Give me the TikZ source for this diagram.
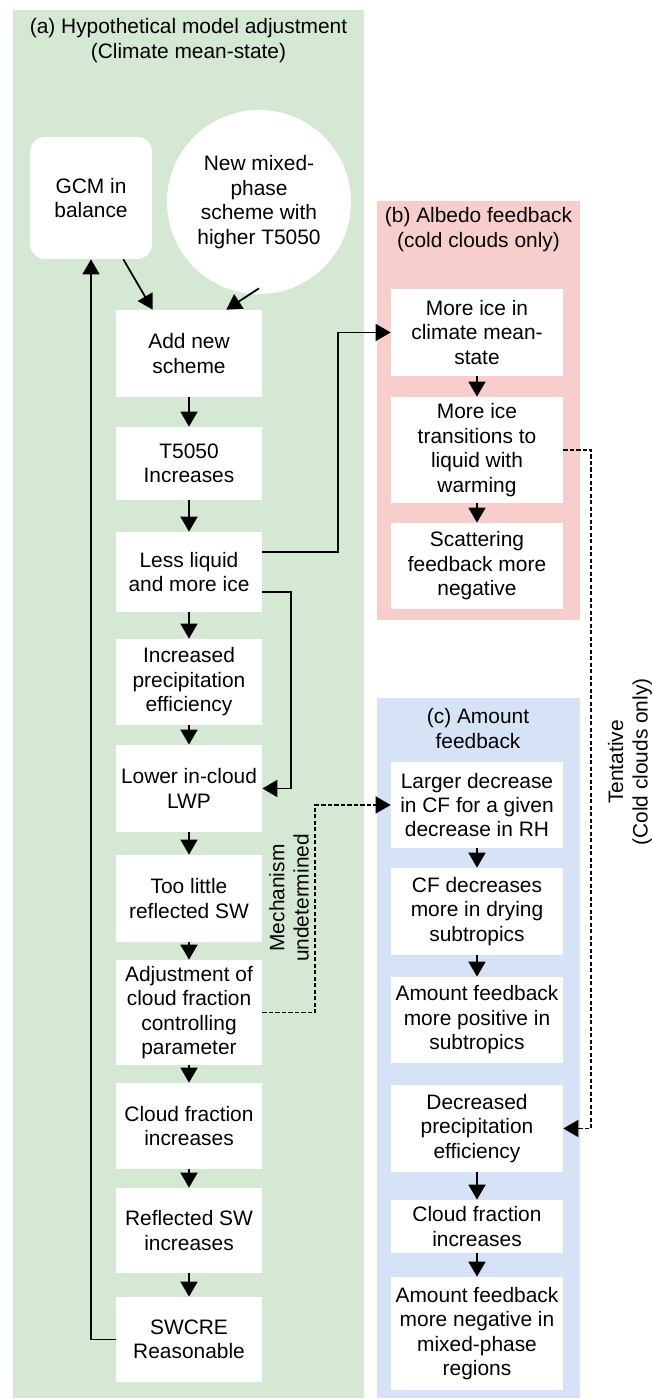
\documentclass[tikz,border=0pt]{standalone}
\usepackage{fontspec}
\setmainfont{Liberation Sans}
\usetikzlibrary{arrows.meta}
\definecolor{panelA}{HTML}{D5E8D4}
\definecolor{panelB}{HTML}{F8CECC}
\definecolor{panelC}{HTML}{D6E3F7}
\tikzset{
  every node/.style={font=\fontsize{11.9}{13.9}\selectfont, align=center},
  box/.style={fill=white, inner sep=0pt},
  gbox/.style={box, minimum width=2.92cm},
  fbox/.style={box, minimum width=3.44cm},
  arr/.style={-{Triangle[width=0.34cm,length=0.3cm]}, line width=1pt},
  dasharr/.style={arr, dash pattern=on 2.4pt off 1.3pt}
}
\begin{document}
\begin{tikzpicture}
          \useasboundingbox (0,0) rectangle (13.02,27.98);

          \fill[panelA] (0.26,0.02) rectangle (7.28,27.78);
          \fill[panelB] (7.54,15.58) rectangle (11.60,23.96);
          \fill[panelC] (7.54,0.02) rectangle (11.60,14.02);

          \node (titleA) at (3.77,27.17) {(a) Hypothetical model adjustment\\(Climate mean-state)};
          \node (titleB) at (9.57,23.39) {(b) Albedo feedback\\(cold clouds only)};
          \node (titleC) at (9.56,13.41) {(c) Amount\\feedback};

          \node[box, rounded corners=0.3cm, minimum width=2.44cm, minimum height=2.44cm] (gcm) at (1.82,24.02) {GCM in\\balance};
          \node[box, circle, minimum size=3.68cm] (newscheme) at (5.18,23.94) {New mixed-\\phase\\scheme with\\higher T5050};

          \node[gbox, minimum height=1.74cm] (add) at (3.78,20.91) {Add new\\scheme};
          \node[gbox, minimum height=1.46cm] (tincr) at (3.78,18.71) {T5050\\Increases};
          \node[gbox, minimum height=1.60cm] (lessliq) at (3.78,16.54) {Less liquid\\and more ice};
          \node[gbox, minimum height=1.72cm] (incprec) at (3.78,14.34) {Increased\\precipitation\\efficiency};
          \node[gbox, minimum height=1.74cm] (lwp) at (3.78,12.21) {Lower in-cloud\\LWP};
          \node[gbox, minimum height=1.74cm] (toolittle) at (3.78,10.01) {Too little\\reflected SW};
          \node[gbox, minimum height=2.10cm] (adjust) at (3.78,7.73) {Adjustment of\\cloud fraction\\controlling\\parameter};
          \node[gbox, minimum height=1.72cm] (cfinc) at (3.78,5.46) {Cloud fraction\\increases};
          \node[gbox, minimum height=1.70cm] (reflinc) at (3.78,3.37) {Reflected SW\\increases};
          \node[gbox, minimum height=1.70cm] (swcre) at (3.78,1.19) {SWCRE\\Reasonable};

          \node[fbox, minimum height=1.74cm] (moreice) at (9.54,21.33) {More ice in\\climate mean-\\state};
          \node[fbox, minimum height=2.12cm] (trans) at (9.54,18.98) {More ice\\transitions to\\liquid with\\warming};
          \node[fbox, minimum height=1.72cm] (scatter) at (9.54,16.66) {Scattering\\feedback more\\negative};

          \node[fbox, minimum height=1.72cm] (larger) at (9.54,11.88) {Larger decrease\\in CF for a given\\decrease in RH};
          \node[fbox, minimum height=1.74cm] (cfdec) at (9.54,9.75) {CF decreases\\more in drying\\subtropics};
          \node[fbox, minimum height=1.72cm] (amtpos) at (9.54,7.58) {Amount feedback\\more positive in\\subtropics};
          \node[fbox, minimum height=1.74cm] (decprec) at (9.54,5.41) {Decreased\\precipitation\\efficiency};
          \node[fbox, minimum height=1.06cm] (cfinctwo) at (9.54,3.45) {Cloud fraction\\increases};
          \node[fbox, minimum height=2.26cm] (amtneg) at (9.54,1.31) {Amount feedback\\more negative in\\mixed-phase\\regions};

          \node[rotate=90] (mechlbl) at (5.78,10.02) {Mechanism\\undetermined};
          \node[rotate=90] (tentlbl) at (12.60,12.74) {Tentative\\(Cold clouds only)};

          \draw[arr] ([xshift=-0.58cm]gcm.south east) -- ([xshift=0.74cm]add.north west);
          \draw[arr] ([yshift=0.12cm]newscheme.south) -- ([xshift=-0.72cm]add.north east);

          \draw[arr] (add) -- (tincr);
          \draw[arr] (tincr) -- (lessliq);
          \draw[arr] (lessliq) -- (incprec);
          \draw[arr] (incprec) -- (lwp);
          \draw[arr] (lwp) -- (toolittle);
          \draw[arr] (toolittle) -- (adjust);
          \draw[arr] (adjust) -- (cfinc);
          \draw[arr] (cfinc) -- (reflinc);
          \draw[arr] (reflinc) -- (swcre);

          \draw[arr] (swcre.west) -| (gcm.south);
          \draw[arr] ([yshift=0.4cm]lessliq.east) -- ++(1.52,0) |- (moreice.west);
          \draw[arr] ([yshift=-0.4cm]lessliq.east) -- ++(0.58,0) |- (lwp.east);

          \draw[arr] (moreice) -- (trans);
          \draw[arr] (trans) -- (scatter);

          \draw[arr] (larger) -- (cfdec);
          \draw[arr] (cfdec) -- (amtpos);
          \draw[arr] (decprec) -- (cfinctwo);
          \draw[arr] (cfinctwo) -- (amtneg);

          \draw[dasharr] (adjust.east) -- ++(1.06,0) |- (larger.west);
          \draw[dasharr] (trans.east) -- ++(0.56,0) |- (decprec.east);

      \end{tikzpicture}
\end{document}
